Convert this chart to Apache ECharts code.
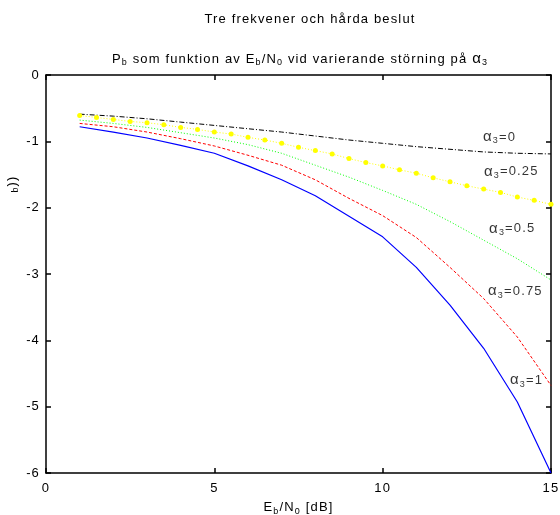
<!DOCTYPE html>
<html>
<head>
<meta charset="utf-8">
<script src="https://cdn.jsdelivr.net/npm/echarts@6/dist/echarts.min.js"></script>
<style>
  html, body { margin: 0; padding: 0; background: #fff; }
  #chart { width: 560px; height: 515px; }
</style>
</head>
<body>
<div id="chart"></div>
<script>
// Eb/N0 in dB
const ebn0Coarse = [1, 2, 3, 4, 5, 6, 7, 8, 9, 10, 11, 12, 13, 14, 15];
const ebn0Fine = [1, 1.5, 2, 2.5, 3, 3.5, 4, 4.5, 5, 5.5, 6, 6.5, 7, 7.5, 8, 8.5, 9, 9.5, 10, 10.5, 11, 11.5, 12, 12.5, 13, 13.5, 14, 14.5, 15];

// log10(Pb) for each interference level alpha3
const pbAlpha0   = [-0.59, -0.62, -0.66, -0.71, -0.76, -0.81, -0.86, -0.92, -0.98, -1.03, -1.08, -1.12, -1.16, -1.18, -1.19];
const pbAlpha025 = [-0.61, -0.64, -0.67, -0.70, -0.72, -0.75, -0.79, -0.82, -0.86, -0.89, -0.94, -0.98, -1.03, -1.09, -1.14,
                    -1.19, -1.26, -1.32, -1.37, -1.43, -1.48, -1.55, -1.61, -1.67, -1.72, -1.77, -1.84, -1.89, -1.95];
const pbAlpha05  = [-0.68, -0.73, -0.79, -0.87, -0.95, -1.05, -1.18, -1.36, -1.54, -1.74, -1.95, -2.21, -2.49, -2.77, -3.09];
const pbAlpha075 = [-0.73, -0.78, -0.86, -0.96, -1.07, -1.21, -1.36, -1.58, -1.86, -2.12, -2.45, -2.90, -3.37, -3.95, -4.68];
const pbAlpha1   = [-0.78, -0.86, -0.95, -1.06, -1.18, -1.37, -1.58, -1.82, -2.13, -2.44, -2.90, -3.47, -4.12, -4.93, -6.00];

// axis tick labels
const xTickLabels = [0, 5, 10, 15];
const yTickLabels = [0, -1, -2, -3, -4, -5, -6];

// curve annotations
const alphaLabels = ['0', '0.25', '0.5', '0.75', '1'];

// Loose Helvetica-style tracking for every piece of text on the canvas
// (applied to measuring as well, so alignment and rich text stay consistent).
const TRACKING = '1.15px';
(function () {
  const proto = CanvasRenderingContext2D.prototype;
  const fill = proto.fillText, stroke = proto.strokeText, measure = proto.measureText;
  proto.fillText = function () { this.letterSpacing = TRACKING; return fill.apply(this, arguments); };
  proto.strokeText = function () { this.letterSpacing = TRACKING; return stroke.apply(this, arguments); };
  proto.measureText = function () { this.letterSpacing = TRACKING; return measure.apply(this, arguments); };
})();

const FONT = '"Liberation Sans", Arial, Helvetica, sans-serif';
const BASE = 13;

function pairs(xs, ys) { return xs.map((x, i) => [x, ys[i]]); }

const richText = {
  n: { fontSize: BASE, fontFamily: FONT, color: '#000', lineHeight: 18, verticalAlign: 'middle' },
  s: { fontSize: 9, fontFamily: FONT, color: '#000', lineHeight: 10, verticalAlign: 'bottom' },
  a: { fontSize: BASE + 2, fontFamily: FONT, color: '#000', lineHeight: 18, verticalAlign: 'middle' }
};

const chart = echarts.init(document.getElementById('chart'), null, { renderer: 'canvas' });

const axisLineStyle = { color: '#000', width: 1.5 };
const frameX = {
  type: 'value', min: xTickLabels[0], max: xTickLabels[xTickLabels.length - 1], interval: 5,
  axisLine: { show: true, onZero: false, lineStyle: axisLineStyle },
  axisTick: { show: true, inside: true, length: 5, lineStyle: axisLineStyle },
  splitLine: { show: false }
};
const frameY = {
  type: 'value', min: yTickLabels[yTickLabels.length - 1], max: yTickLabels[0], interval: 1,
  axisLine: { show: true, onZero: false, lineStyle: axisLineStyle },
  axisTick: { show: true, inside: true, length: 5, lineStyle: axisLineStyle },
  splitLine: { show: false }
};

// anchor points (dB, log10 Pb) for the alpha3 annotations
const labelAnchors = [[12.98, -0.935], [13.01, -1.46], [13.16, -2.32], [13.13, -3.26], [13.78, -4.6]];

const option = {
  animation: false,
  backgroundColor: '#fff',
  grid: { left: 46, right: 9, top: 75, bottom: 42, containLabel: false, outerBoundsMode: 'none' },
  xAxis: [
    Object.assign({}, frameX, {
      position: 'bottom',
      axisLabel: { color: '#000', fontSize: BASE, fontFamily: FONT, margin: 8 },
      name: '{n|E}{s|b}{n|/N}{s|0}{n| [dB]}',
      nameLocation: 'middle',
      nameGap: 24,
      nameTextStyle: { rich: richText }
    }),
    Object.assign({}, frameX, { position: 'top', axisLabel: { show: false } })
  ],
  yAxis: [
    Object.assign({}, frameY, {
      position: 'left',
      axisLabel: { color: '#000', fontSize: BASE, fontFamily: FONT, margin: 6 }
    }),
    Object.assign({}, frameY, { position: 'right', axisLabel: { show: false } })
  ],
  graphic: [
    { type: 'text', x: 310, y: 19,
      style: { text: 'Tre frekvener och hårda beslut', fontSize: BASE, fontFamily: FONT, fill: '#000',
               align: 'center', verticalAlign: 'middle' } },
    { type: 'text', x: 300, y: 59,
      style: { text: '{n|P}{s|b}{n| som funktion av E}{s|b}{n|/N}{s|0}{n| vid varierande störning på }{a|α}{s|3}',
               rich: richText, align: 'center', verticalAlign: 'middle' } },
    { type: 'text', x: 12, y: 184, rotation: Math.PI / 2,
      style: { text: '{s|b}{n|))}', rich: richText, align: 'center', verticalAlign: 'middle' } }
  ],
  series: [
    { name: 'alpha3=0', type: 'line', data: pairs(ebn0Coarse, pbAlpha0), showSymbol: false,
      lineStyle: { color: '#000', width: 1, type: [5, 2, 1, 2] } },
    { name: 'alpha3=0.25', type: 'line', data: pairs(ebn0Fine, pbAlpha025),
      symbol: 'circle', symbolSize: 5, showSymbol: true,
      itemStyle: { color: '#ffff00', borderWidth: 0 },
      lineStyle: { color: '#ffff00', width: 1, type: [1, 2] } },
    { name: 'alpha3=0.5', type: 'line', data: pairs(ebn0Coarse, pbAlpha05), showSymbol: false,
      lineStyle: { color: '#00ff00', width: 1, type: [1, 2] } },
    { name: 'alpha3=0.75', type: 'line', data: pairs(ebn0Coarse, pbAlpha075), showSymbol: false,
      lineStyle: { color: '#ff0000', width: 1, type: [3, 2] } },
    { name: 'alpha3=1', type: 'line', data: pairs(ebn0Coarse, pbAlpha1), showSymbol: false,
      lineStyle: { color: '#0000ff', width: 1.2 } },
    { name: 'annotations', type: 'scatter', symbolSize: 0, silent: true,
      data: alphaLabels.map((a, i) => ({ value: labelAnchors[i], name: a })),
      label: {
        show: true, position: 'right', distance: 0,
        formatter: p => '{a|α}{s|3}{n|=' + p.name + '}',
        rich: richText
      } }
  ]
};

chart.setOption(option);
</script>
</body>
</html>
